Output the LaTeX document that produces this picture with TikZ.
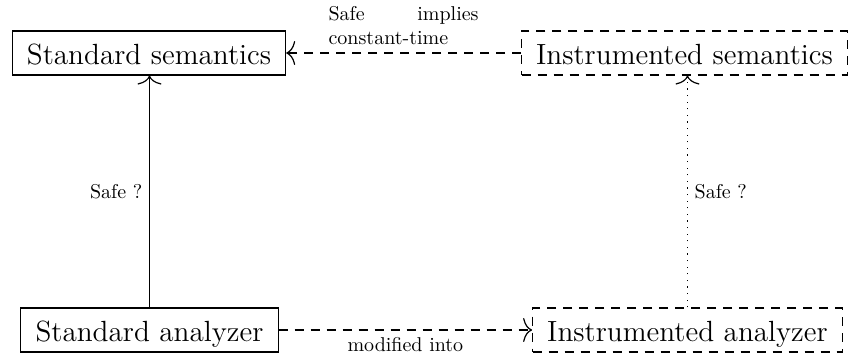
\documentclass[tikz,border=0pt]{standalone}
\usetikzlibrary{arrows.meta}
\begin{document}
\begin{tikzpicture}[x=0.5pt,y=-0.5pt,line width=0.55pt,
  box/.style={draw, font=\fontsize{14.6}{17}\selectfont, inner xsep=7.3pt, inner ysep=4.5pt, text height=12.5pt, text depth=0.5pt},
  dbox/.style={box, dash pattern=on 4.5pt off 3.5pt},
  arr/.style={-{Computer Modern Rightarrow[length=4.5pt,width=12pt,line width=0.6pt]}},
  dsh/.style={dash pattern=on 4.5pt off 3.5pt},
  dots/.style={dash pattern=on 0.6pt off 2.7pt},
  lab/.style={font=\fontsize{10}{12}\selectfont}]
\useasboundingbox (0,0) rectangle (853,358);
\node[box] (SS) at (149,53) {Standard semantics};
\node[dbox] (IS) at (684.5,53) {Instrumented semantics};
\node[box] (SA) at (149.5,330) {Standard analyzer};
\node[dbox] (IA) at (687.5,330) {Instrumented analyzer};
\draw[arr] (SA.north) -- node[left, lab] {Safe ?} (SA.north |- SS.south);
\draw[arr, dots] (IA.north) -- node[right, lab] {Safe ?} (IA.north |- IS.south);
\draw[arr, dsh] (IS.west) -- node[above=4pt, inner sep=0pt, lab, align=left] {\makebox[75pt][s]{Safe implies}\\constant-time} (SS.east);
\draw[arr, dsh] (SA.east) -- node[below, lab] {modified into} (IA.west);
\end{tikzpicture}
\end{document}
